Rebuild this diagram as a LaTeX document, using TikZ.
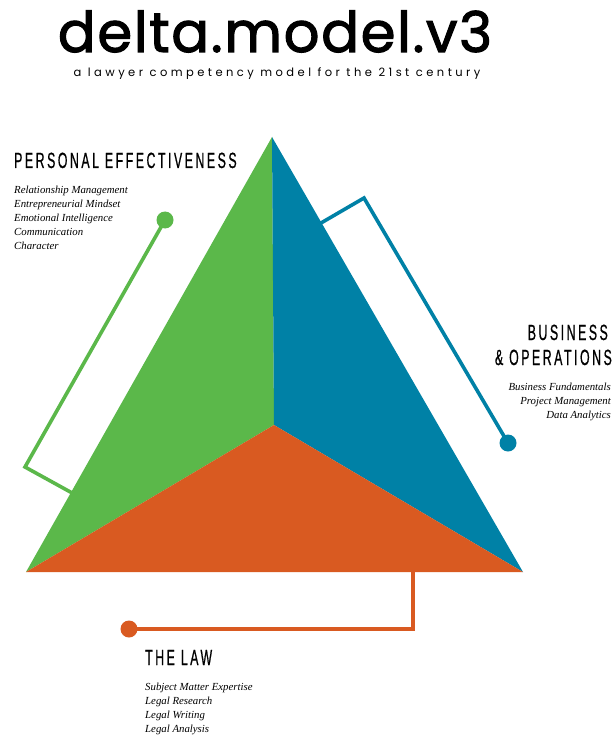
\documentclass[tikz,border=0pt]{standalone}
\usepackage{fontspec}
\newfontfamily\titlefont[FakeBold=2,LetterSpace=3]{Poppins}
\newfontfamily\subfont[LetterSpace=30]{Poppins}
\newfontfamily\headfont[FakeStretch=0.56,LetterSpace=11.5,FakeBold=0.6]{Liberation Sans}
\newfontfamily\listfont{Liberation Serif}
\definecolor{pgreen}{HTML}{5BB84A}
\definecolor{pblue}{HTML}{0081A6}
\definecolor{porange}{HTML}{D95A21}
\tikzset{
  link/.style={line width=3.6pt, line join=miter},
  dot/.style={circle, minimum size=17pt, inner sep=0pt},
  heading/.style={inner sep=0pt, font=\headfont\fontsize{22}{24}\selectfont},
  items/.style={inner sep=0pt, font=\listfont\itshape\fontsize{10.8}{14}\selectfont},
}
\begin{document}
\begin{tikzpicture}[x=1pt,y=-1pt]
\useasboundingbox (0,0) rectangle (613,735);
\fill[white] (0,0) rectangle (613,735);
% title
\node[inner sep=0pt, anchor=base, text depth=0pt, font=\titlefont\fontsize{56}{60}\selectfont] (title) at (275,52) {delta.model.v3};
\node[inner sep=0pt, anchor=base, font=\subfont\fontsize{11.5}{13}\selectfont] (subtitle) at (277,77) {a lawyer competency model for the 21st century};
% triangle corners
\coordinate (top) at (272,137);
\coordinate (bl) at (26,572);
\coordinate (br) at (523,572);
\coordinate (mid) at (274,425);
\fill[pgreen] (top) -- (bl) -- (mid) -- cycle;
\fill[pblue] (top) -- (mid) -- (br) -- cycle;
\fill[porange] (bl) -- (mid) -- (br) -- cycle;
% connectors
\node[dot, fill=pgreen] (gdot) at (165,220) {};
\coordinate (gbend) at (25,467);
\coordinate (gend) at (74,494);
\draw[link, pgreen] (gdot.center) -- (gbend) -- (gend);
\node[dot, fill=pblue] (bdot) at (508,443) {};
\coordinate (bstart) at (321,223);
\coordinate (bbend) at (364,198);
\draw[link, pblue] (bstart) -- (bbend) -- (bdot.center);
\node[dot, fill=porange] (odot) at (129,629) {};
\coordinate (ostart) at (413,570);
\coordinate (obend) at (413,629);
\draw[link, porange] (ostart) -- (obend) -- (odot.center);
% labels
\node[heading, anchor=base west] (pe) at (14,168) {PERSONAL EFFECTIVENESS};
\node[items, anchor=north west, align=left] (pelist) at (14,186) {Relationship Management\\Entrepreneurial Mindset\\Emotional Intelligence\\Communication\\Character};
\node[heading, anchor=base east, align=right] (bo) at (608,340) {BUSINESS};
\node[heading, anchor=base east, align=right] (bo2) at (612,365) {\& OPERATIONS};
\node[items, anchor=north east, align=right] (bolist) at (611,383) {Business Fundamentals\\Project Management\\Data Analytics};
\node[heading, anchor=base west] (law) at (145,665) {THE LAW};
\node[items, anchor=north west, align=left] (lawlist) at (145,683) {Subject Matter Expertise\\Legal Research\\Legal Writing\\Legal Analysis};
\end{tikzpicture}
\end{document}
